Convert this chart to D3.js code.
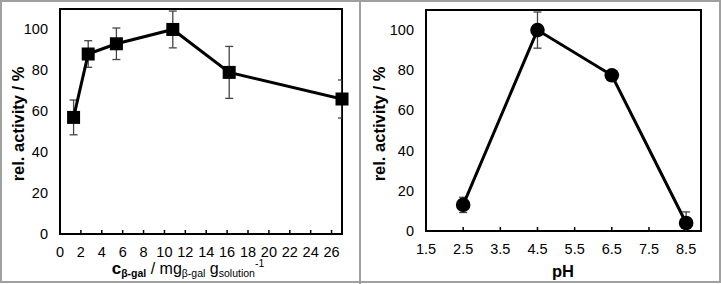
<!DOCTYPE html>
<html>
<head>
<meta charset="utf-8">
<script src="https://cdn.jsdelivr.net/npm/d3@7"></script>
<style>
  body { margin: 0; background: #fff; }
  svg { display: block; font-family: "Liberation Sans", Arial, sans-serif; }
</style>
</head>
<body>
<div id="chart"></div>
<script>
// --- data: enzyme concentration ---
const concX = [1.3, 2.7, 5.4, 10.8, 16.2, 27];
const concY = [57, 88, 93, 100, 79, 66];
const concErr = [8.5, 6.5, 7.7, 9, 12.7, 9.3];
const concTicks = [0, 2, 4, 6, 8, 10, 12, 14, 16, 18, 20, 22, 24, 26];

// --- data: pH ---
const phX = [2.5, 4.5, 6.5, 8.5];
const phY = [13, 100, 77.5, 4];
const phErr = [3.8, 9, 2, 5.5];
const phTicks = [1.5, 2.5, 3.5, 4.5, 5.5, 6.5, 7.5, 8.5];

const yTicks = [0, 20, 40, 60, 80, 100];

const W = 721, H = 284;
const svg = d3.select("#chart").append("svg")
  .attr("width", W)
  .attr("height", H);

// gray frame + divider
svg.append("rect")
  .attr("x", 1).attr("y", 1)
  .attr("width", W - 2).attr("height", H - 3)
  .attr("fill", "none")
  .attr("stroke", "#a0a0a0")
  .attr("stroke-width", 2);
svg.append("line")
  .attr("x1", 360).attr("x2", 360)
  .attr("y1", 0).attr("y2", H)
  .attr("stroke", "#a0a0a0")
  .attr("stroke-width", 2);

function panel(opts) {
  const { left, right, top, bottom, xDomain, xs, ys, errs, xTicks, xFmt, marker, id, titleX } = opts;
  const x = d3.scaleLinear().domain(xDomain).range([left, right]);
  const y = d3.scaleLinear().domain([0, 110]).range([bottom, top]);

  const g = svg.append("g");

  g.append("clipPath").attr("id", id)
    .append("rect")
    .attr("x", left).attr("y", top)
    .attr("width", right - left).attr("height", bottom - top);

  // plot frame
  g.append("rect")
    .attr("x", left).attr("y", top)
    .attr("width", right - left).attr("height", bottom - top)
    .attr("fill", "none")
    .attr("stroke", "#000")
    .attr("stroke-width", 2);

  // x ticks (inward)
  g.selectAll(".xt")
    .data(xTicks)
    .join("line")
    .attr("x1", d => x(d)).attr("x2", d => x(d))
    .attr("y1", bottom).attr("y2", bottom - 4)
    .attr("stroke", "#000")
    .attr("stroke-width", 1.5);

  g.selectAll(".xl")
    .data(xTicks)
    .join("text")
    .attr("x", d => x(d))
    .attr("y", bottom + 23)
    .attr("text-anchor", "middle")
    .attr("font-size", "14.5px")
    .attr("fill", "#000")
    .text(xFmt);

  g.selectAll(".yl")
    .data(yTicks)
    .join("text")
    .attr("x", left - 12)
    .attr("y", d => y(d) + 5)
    .attr("text-anchor", "end")
    .attr("font-size", "14.5px")
    .attr("fill", "#000")
    .text(d => d);

  const pts = xs.map((v, i) => ({ x: v, y: ys[i], e: errs[i] }));
  const data = g.append("g").attr("clip-path", `url(#${id})`);

  // error bars
  const eb = data.selectAll(".eb").data(pts).join("g");
  eb.append("line")
    .attr("x1", d => x(d.x)).attr("x2", d => x(d.x))
    .attr("y1", d => y(d.y - d.e)).attr("y2", d => y(d.y + d.e))
    .attr("stroke", "#444").attr("stroke-width", 1.3);
  [-1, 1].forEach(s => {
    eb.append("line")
      .attr("x1", d => x(d.x) - 4).attr("x2", d => x(d.x) + 4)
      .attr("y1", d => y(d.y + s * d.e)).attr("y2", d => y(d.y + s * d.e))
      .attr("stroke", "#444").attr("stroke-width", 1.3);
  });

  const line = d3.line().x(d => x(d.x)).y(d => y(d.y));
  data.append("path")
    .datum(pts)
    .attr("d", line)
    .attr("fill", "none")
    .attr("stroke", "#000")
    .attr("stroke-width", 3);

  const m = g.selectAll(".m").data(pts);
  if (marker === "square") {
    m.join("rect")
      .attr("x", d => x(d.x) - 6.5).attr("y", d => y(d.y) - 6.5)
      .attr("width", 13).attr("height", 13)
      .attr("fill", "#000");
  } else {
    m.join("circle")
      .attr("cx", d => x(d.x)).attr("cy", d => y(d.y))
      .attr("r", 7.3)
      .attr("fill", "#000");
  }

  // y title
  const cy = 124;
  g.append("text")
    .attr("transform", `translate(${titleX},${cy}) rotate(-90)`)
    .attr("text-anchor", "middle")
    .attr("font-size", "16.5px")
    .attr("font-weight", "bold")
    .attr("fill", "#000")
    .text("rel. activity / %");

  return { x, y, g };
}

panel({
  id: "clip1", left: 60, right: 342, top: 9, bottom: 234, titleX: 24,
  xDomain: [0, 27], xs: concX, ys: concY, errs: concErr,
  xTicks: concTicks, xFmt: d => d, marker: "square"
});

panel({
  id: "clip2", left: 426, right: 701, top: 10, bottom: 231, titleX: 385,
  xDomain: [1.5, 8.9], xs: phX, ys: phY, errs: phErr,
  xTicks: phTicks, xFmt: d => d.toFixed(1), marker: "circle"
});

// x titles
const t1 = svg.append("text")
  .attr("x", 188)
  .attr("y", 274)
  .attr("text-anchor", "middle")
  .attr("font-size", "16px")
  .attr("fill", "#000");
t1.append("tspan").attr("font-weight", "bold").attr("font-size", "17px").text("c");
t1.append("tspan").attr("font-weight", "bold").attr("font-size", "10.5px").attr("dy", 3).text("β-gal");
t1.append("tspan").attr("dy", -3).text(" / mg");
t1.append("tspan").attr("font-size", "10.5px").attr("dy", 3).text("β-gal");
t1.append("tspan").attr("dy", -3).text(" g");
t1.append("tspan").attr("font-size", "10.5px").attr("dy", 3).text("solution");
t1.append("tspan").attr("font-size", "10.5px").attr("dy", -10).text("-1");

svg.append("text")
  .attr("x", 563)
  .attr("y", 277)
  .attr("text-anchor", "middle")
  .attr("font-size", "16.5px")
  .attr("font-weight", "bold")
  .attr("fill", "#000")
  .text("pH");
</script>
</body>
</html>
